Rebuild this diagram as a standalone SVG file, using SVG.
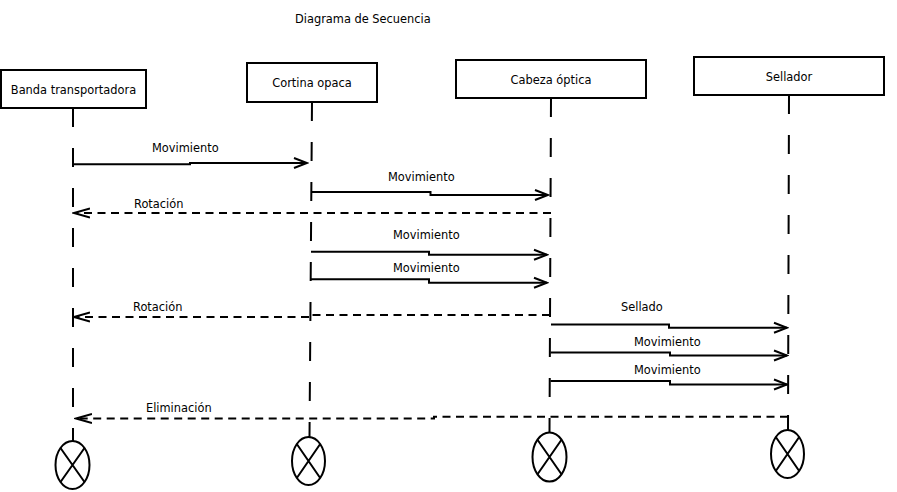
<svg xmlns="http://www.w3.org/2000/svg" width="897" height="492" viewBox="0 0 897 492">
<style>
text{font-family:"DejaVu Sans","Liberation Sans",sans-serif;font-size:11.4px;fill:#000}
.box{fill:#fff;stroke:#000;stroke-width:2}
.life{fill:none;stroke:#000;stroke-width:2;stroke-dasharray:19 21}
.msg{fill:none;stroke:#000;stroke-width:2;marker-end:url(#open)}
.ret{fill:none;stroke:#000;stroke-width:2;stroke-dasharray:8 5.5;marker-end:url(#openr)}
.end{fill:#fff;stroke:#000;stroke-width:2}
.stem{stroke:#000;stroke-width:2}
</style>
<defs>
<marker id="open" markerUnits="userSpaceOnUse" viewBox="0 0 16 14" markerWidth="16" markerHeight="14" refX="14" refY="7" orient="auto">
<path d="M1,2 L14,7 L1,12" fill="none" stroke="#000" stroke-width="2" stroke-dasharray="none"/>
</marker>
<marker id="openr" markerUnits="userSpaceOnUse" viewBox="0 0 18 12" markerWidth="18" markerHeight="12" refX="16" refY="6" orient="auto">
<path d="M0,1.5 L16,6 L0,10.5" fill="none" stroke="#000" stroke-width="2" stroke-dasharray="none"/>
</marker>
</defs>
<rect width="897" height="492" fill="#fff"/>
<text x="295" y="23">Diagrama de Secuencia</text>

<g id="banda">
<rect class="box" x="1" y="70" width="145" height="38"/>
<text x="73.5" y="94" text-anchor="middle">Banda transportadora</text>
<line class="life" x1="73" y1="108" x2="73" y2="441"/>
<ellipse class="end" cx="72.5" cy="465" rx="17" ry="24"/>
<path class="stem" d="M60.5,448 L84.5,482 M84.5,448 L60.5,482"/>
</g>

<g id="cortina">
<rect class="box" x="247" y="63" width="130" height="39"/>
<text x="312" y="87" text-anchor="middle">Cortina opaca</text>
<line class="life" x1="312" y1="102" x2="309.5" y2="437"/>
<ellipse class="end" cx="308.5" cy="461" rx="16.5" ry="24"/>
<path class="stem" d="M296.8,444 L320.2,478 M320.2,444 L296.8,478"/>
</g>

<g id="cabeza">
<rect class="box" x="456" y="60" width="190" height="38"/>
<text x="551" y="84" text-anchor="middle">Cabeza óptica</text>
<line class="life" x1="551" y1="98" x2="549.5" y2="433"/>
<ellipse class="end" cx="549.5" cy="457" rx="17" ry="24.5"/>
<path class="stem" d="M537.5,439.7 L561.5,474.3 M561.5,439.7 L537.5,474.3"/>
</g>

<g id="sellador">
<rect class="box" x="694" y="57" width="190" height="38"/>
<text x="789" y="81" text-anchor="middle">Sellador</text>
<line class="life" x1="789" y1="95" x2="788" y2="430"/>
<ellipse class="end" cx="787.5" cy="454" rx="16.5" ry="24"/>
<path class="stem" d="M775.8,437 L799.2,471 M799.2,437 L775.8,471"/>
</g>

<g id="connectors">
<path class="msg" d="M73,164.3 H190 V163 H307"/>
<text x="152" y="152">Movimiento</text>

<path class="msg" d="M312,192 H430.5 V195 H548"/>
<text x="388" y="181">Movimiento</text>

<path class="ret" d="M551,213 H74"/>
<text x="134" y="208">Rotación</text>

<path class="msg" d="M311,251.7 H429 V254.8 H547"/>
<text x="393" y="239">Movimiento</text>

<path class="msg" d="M310.5,279.3 H429 V282.7 H547"/>
<text x="393" y="272">Movimiento</text>

<path class="ret" d="M550,315 H311 V317 H74"/>
<text x="133" y="311">Rotación</text>

<path class="msg" d="M551,324.5 H669 V327.7 H787"/>
<text x="621" y="311">Sellado</text>

<path class="msg" d="M550.5,352.5 H670 V355.5 H787"/>
<text x="634" y="345.5">Movimiento</text>

<path class="msg" d="M550.5,381 H670 V384.5 H787"/>
<text x="634" y="373.5">Movimiento</text>

<path class="ret" d="M788,416.8 H434 V418.5 H76"/>
<text x="146" y="412">Eliminación</text>
</g>
</svg>
